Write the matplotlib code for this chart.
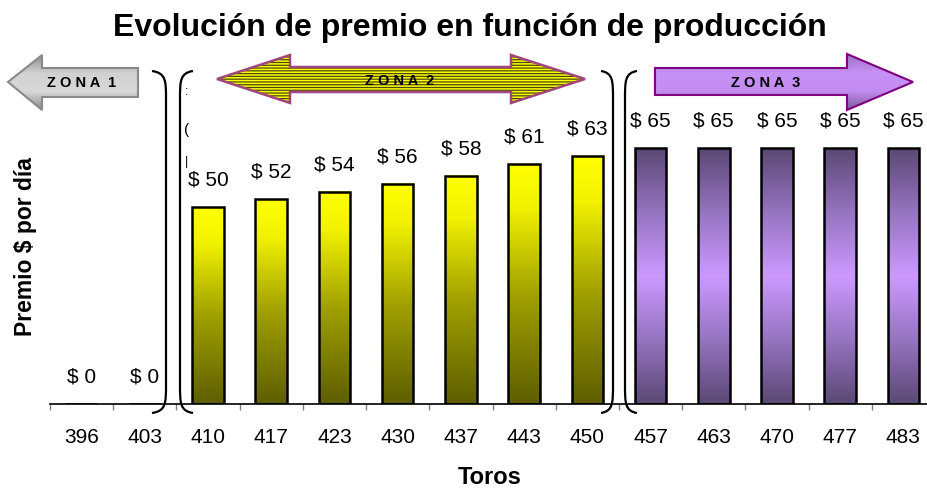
import numpy as np
import matplotlib.pyplot as plt
from matplotlib.colors import LinearSegmentedColormap
from matplotlib.patches import Polygon, PathPatch
from matplotlib.path import Path

# data
toros = ['396', '403', '410', '417', '423', '430', '437', '443', '450',
         '457', '463', '470', '477', '483']
premio = [0, 0, 50, 52, 54, 56, 58, 61, 63, 65, 65, 65, 65, 65]
zona = [1, 1, 2, 2, 2, 2, 2, 2, 2, 3, 3, 3, 3, 3]

plt.rcParams['font.family'] = ['Liberation Sans', 'DejaVu Sans']
plt.rcParams['hatch.linewidth'] = 0.9

yellow = LinearSegmentedColormap.from_list(
    'yel', [(0, '#5e5e00'), (0.45, '#a0a000'), (0.82, '#f2f200'), (1, '#ffff00')])
purple = LinearSegmentedColormap.from_list(
    'pur', [(0, '#5b4874'), (0.25, '#9574c0'), (0.5, '#cc99ff'), (0.75, '#9574c0'), (1, '#5b4874')])
grey = LinearSegmentedColormap.from_list('gr', ['#8c8c8c', '#d2d2d2', '#d8d8d8', '#8a8a8a'])
lilac = LinearSegmentedColormap.from_list('li', ['#9a72c4', '#c792f5', '#c28cf0', '#7a5a9c'])

fig = plt.figure(figsize=(9.27, 4.91), dpi=100)
ax = fig.add_axes([50 / 927, 87 / 491, 885 / 927, 354 / 491])

x = np.arange(len(toros))
grad = np.linspace(0, 1, 256).reshape(-1, 1)
bars = ax.bar(x, premio, width=0.5, facecolor='none', edgecolor='black',
              linewidth=1.8, zorder=3)
for b, v, z in zip(bars, premio, zona):
    if v == 0:
        continue
    cm = yellow if z == 2 else purple
    ax.imshow(grad, extent=(b.get_x(), b.get_x() + b.get_width(), 0, v),
              origin='lower', aspect='auto', cmap=cm, zorder=2)

for xi, v in zip(x, premio):
    ax.annotate(f'$ {v}', (xi, v), xytext=(0, 27), textcoords='offset pixels',
                ha='center', va='center', fontsize=15)

ax.set_xlim(-0.5, len(toros) - 0.5)
ax.set_ylim(0, 90)
ax.set_xticks(x)
ax.set_xticklabels(toros, fontsize=15)
ax.set_xticks(np.arange(-0.5, len(toros), 1), minor=True)
ax.tick_params(axis='x', which='major', length=0, pad=17)
ax.tick_params(axis='x', which='minor', length=4, width=1, color='#808080')
ax.set_yticks([])
for s in ['left', 'top', 'right']:
    ax.spines[s].set_visible(False)
ax.spines['bottom'].set_linewidth(1.2)

fig.text(470 / 927, 1 - 28 / 491, 'Evolución de premio en función de producción',
         ha='center', va='center', fontsize=23, fontweight='bold')
fig.text(490 / 927, 1 - 478 / 491, 'Toros', ha='center', va='center',
         fontsize=17, fontweight='bold')
fig.text(26 / 927, 1 - 247 / 491, 'Premio $ por día', ha='center', va='center',
         rotation=90, fontsize=16.5, fontweight='bold')

# overlay in pixel coordinates for the zone arrows and brackets
ov = fig.add_axes([0, 0, 1, 1], zorder=5)
ov.set_xlim(0, 927)
ov.set_ylim(491, 0)
ov.axis('off')
ov.patch.set_alpha(0)


def gradient_poly(pts, cmap, edge):
    xs = [p[0] for p in pts]
    ys = [p[1] for p in pts]
    clip = Polygon(pts, closed=True, facecolor='none', edgecolor='none')
    ov.add_patch(clip)
    im = ov.imshow(grad, extent=(min(xs), max(xs), max(ys), min(ys)),
                   origin='upper', aspect='auto', cmap=cmap, zorder=1)
    im.set_clip_path(clip)
    ov.add_patch(Polygon(pts, closed=True, fill=False, edgecolor=edge,
                         linewidth=1.5, zorder=2))


zona1 = [(8, 82), (42, 55), (42, 68), (138, 68), (138, 97), (42, 97), (42, 110)]
zona2 = [(217, 79), (290, 55), (290, 67), (511, 67), (511, 55), (585, 79),
         (511, 103), (511, 92), (290, 92), (290, 103)]
zona3 = [(655, 68), (847, 68), (847, 54), (913, 82), (847, 110), (847, 95), (655, 95)]

gradient_poly(zona1, grey, '#8a8a8a')
gradient_poly(zona3, lilac, '#800080')
ov.add_patch(Polygon(zona2, closed=True, facecolor='#ffff00', edgecolor='#4a4a10',
                     hatch='------', linewidth=0, zorder=1))
ov.add_patch(Polygon(zona2, closed=True, fill=False, edgecolor='#a0457f',
                     linewidth=1.8, zorder=2))

ov.text(82, 83, 'Z O N A  1', ha='center', va='center', fontsize=10.5,
        fontweight='bold', zorder=3)
ov.text(400, 81, 'Z O N A  2', ha='center', va='center', fontsize=10.5,
        fontweight='bold', zorder=3)
ov.text(766, 83, 'Z O N A  3', ha='center', va='center', fontsize=10.5,
        fontweight='bold', zorder=3)


def bracket(xe, xv, y0, y1):
    verts = [(xe, y0), (xv, y0 + 2), (xv, y0 + 10), (xv, y0 + 28),
             (xv, y1 - 28), (xv, y1 - 10), (xv, y1 - 2), (xe, y1)]
    codes = [Path.MOVETO, Path.CURVE4, Path.CURVE4, Path.CURVE4,
             Path.LINETO, Path.CURVE4, Path.CURVE4, Path.CURVE4]
    ov.add_patch(PathPatch(Path(verts, codes), fill=False, edgecolor='black',
                           linewidth=1.6, zorder=4))


bracket(152, 166, 71, 413)
bracket(193, 180, 71, 413)
bracket(601, 613, 71, 413)
bracket(637, 625, 71, 413)

# fragments of hidden text peeking out beside the bracket
ov.text(187, 130, '(', ha='center', va='center', fontsize=11, zorder=4)
ov.text(187, 162, '|', ha='center', va='center', fontsize=9, zorder=4)
ov.text(187, 92, ':', ha='center', va='center', fontsize=9, zorder=4)

fig.savefig('out.png', dpi=100)
